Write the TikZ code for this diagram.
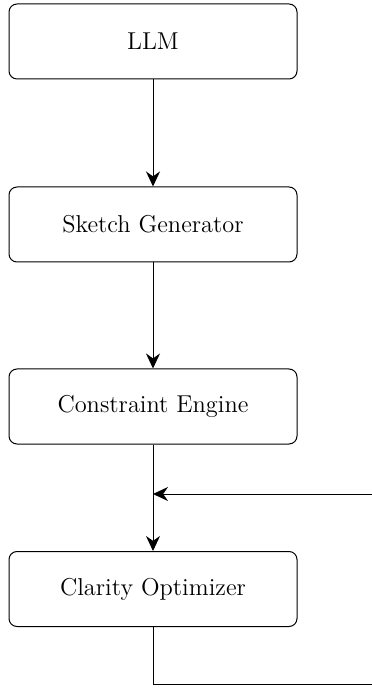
\documentclass[tikz,border=0pt]{standalone}
\usetikzlibrary{arrows.meta}
\begin{document}
\begin{tikzpicture}[x=0.5pt,y=-0.5pt,
  stage/.style={draw, rounded corners=4pt, line width=0.5pt,
    minimum width=144pt, minimum height=37.5pt, inner sep=0pt,
    font=\fontsize{12.2}{14}\selectfont},
  flow/.style={line width=0.5pt, -{Stealth[length=7.5pt,width=7pt]}}]
  \useasboundingbox (0,0) rectangle (371,688);
  \node[stage] (llm) at (153,41.5) {LLM};
  \node[stage] (sketch) at (153,224.5) {Sketch Generator};
  \node[stage] (cons) at (153,406.5) {Constraint Engine};
  \node[stage] (clar) at (153,589) {Clarity Optimizer};
  \draw[flow] (llm) -- (sketch);
  \draw[flow] (sketch) -- (cons);
  \draw[flow] (cons) -- (clar);
  % feedback loop back onto the link above the optimizer
  \coordinate (fbin) at (153,494);
  \coordinate (fbturn) at (376,684);
  \draw[flow] (clar.south) |- (fbturn) |- (fbin);
\end{tikzpicture}
\end{document}
